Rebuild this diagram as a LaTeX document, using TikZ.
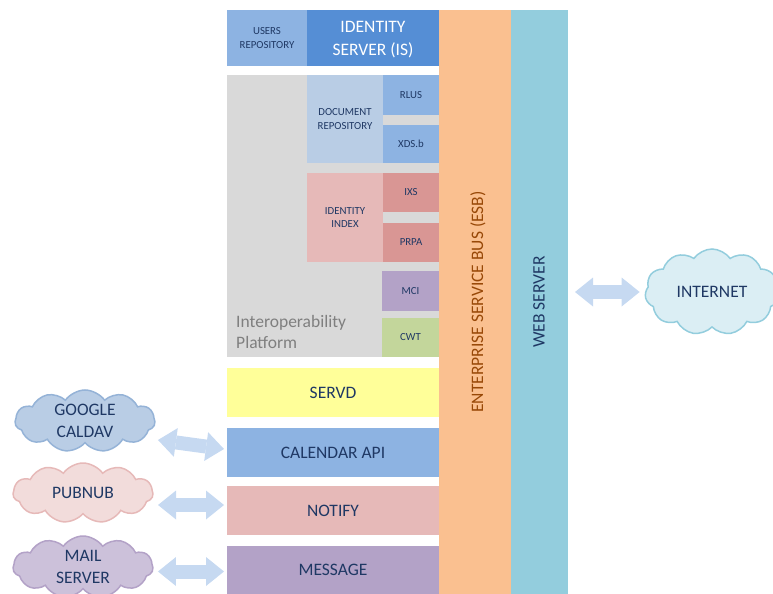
\documentclass[tikz,border=0pt]{standalone}
\usepackage{fontspec}
\setmainfont{Carlito}
\usetikzlibrary{shapes.symbols, arrows.meta, calc}

\definecolor{txt}{HTML}{1F3864}
\definecolor{esbtxt}{HTML}{984807}
\definecolor{graytxt}{HTML}{7F7F7F}
\definecolor{usersfill}{HTML}{8DB3E2}
\definecolor{isfill}{HTML}{558ED5}
\definecolor{esbfill}{HTML}{FAC090}
\definecolor{webfill}{HTML}{93CDDD}
\definecolor{platfill}{HTML}{D9D9D9}
\definecolor{docfill}{HTML}{B9CDE5}
\definecolor{bluefill}{HTML}{8DB3E2}
\definecolor{idxfill}{HTML}{E6B9B8}
\definecolor{redfill}{HTML}{D99694}
\definecolor{mcifill}{HTML}{B3A2C7}
\definecolor{cwtfill}{HTML}{C3D69B}
\definecolor{servdfill}{HTML}{FFFF99}
\definecolor{arrowblue}{HTML}{C6D9F1}
\definecolor{gcfill}{HTML}{B9CDE5}
\definecolor{gcline}{HTML}{95B3D7}
\definecolor{pnfill}{HTML}{F2DCDB}
\definecolor{pnline}{HTML}{E6B9B8}
\definecolor{mlfill}{HTML}{CCC1DA}
\definecolor{mlline}{HTML}{B3A2C7}
\definecolor{infill}{HTML}{DBEEF4}
\definecolor{inline}{HTML}{93CDDD}

\tikzset{blocktip/.tip={Triangle[length=18bp, width=29bp, line width=0pt]}}

% a filled block given by its two corners: options, name, x1, y1, x2, y2, text
\newcommand\blkbox[7]{%
  \node[blk, #1, minimum width={(#5-#3)*1bp}, minimum height={(#6-#4)*1bp}]
    (#2) at ({(#3+#5)/2},{(#4+#6)/2}) {#7};}

\begin{document}
\begin{tikzpicture}[x=1bp, y=-1bp,
  bigfont/.style={font=\fontsize{17.5bp}{22bp}\selectfont},
  smallfont/.style={font=\fontsize{10.8bp}{13.3bp}\selectfont},
  blk/.style={rectangle, draw=none, inner sep=0pt, outer sep=0pt,
    align=center, text=txt},
  cloudnode/.style={cloud, cloud puffs=11, cloud puff arc=110,
    cloud ignores aspect, line width=1.5bp, inner sep=0pt, outer sep=0pt,
    align=center, text=txt, bigfont},
  blockarrow/.style={draw=arrowblue, line width=14bp, {blocktip}-{blocktip}}
]
\useasboundingbox (0,0) rectangle (773,594);

% identity server row
\blkbox{smallfont, text depth=0pt, fill=usersfill}{users}{227}{10}{307}{66}{USERS\\REPOSITORY}
\blkbox{font=\fontsize{17.5bp}{23bp}\selectfont, text depth=0pt, text=white, fill=isfill}{is}{307}{10}{439}{66}{IDENTITY\\SERVER (IS)}

% interoperability platform
\blkbox{fill=platfill}{plat}{227}{75}{439}{357}{}
\node[anchor=base west, inner sep=0pt, align=left, text=graytxt,
  font=\fontsize{17.5bp}{21bp}\selectfont] (platlabel) at (236,348)
  {Interoperability\\Platform};

\blkbox{smallfont, fill=docfill}{doc}{307}{75}{383}{163}{DOCUMENT\\REPOSITORY}
\blkbox{smallfont, fill=bluefill}{rlus}{383}{75}{439}{115}{RLUS}
\blkbox{smallfont, fill=bluefill}{xds}{383}{125}{439}{163}{XDS.b}

\blkbox{smallfont, fill=idxfill}{idx}{307}{173}{383}{262}{IDENTITY\\INDEX}
\blkbox{smallfont, fill=redfill}{ixs}{383}{173}{439}{212}{IXS}
\blkbox{smallfont, fill=redfill}{prpa}{383}{223}{439}{262}{PRPA}

\blkbox{smallfont, fill=mcifill}{mci}{382}{271}{439}{311}{MCI}
\blkbox{smallfont, fill=cwtfill}{cwt}{382}{318}{439}{357}{CWT}

% services
\blkbox{bigfont, fill=servdfill}{servd}{227}{368}{439}{417}{SERVD}
\blkbox{bigfont, fill=bluefill}{calapi}{227}{428}{439}{477}{CALENDAR API}
\blkbox{bigfont, fill=idxfill}{notify}{227}{486}{439}{535}{NOTIFY}
\blkbox{bigfont, fill=mcifill}{message}{227}{546}{439}{594}{MESSAGE}

% buses
\blkbox{fill=esbfill}{esb}{439}{10}{511}{594}{}
\blkbox{fill=webfill}{web}{511}{10}{568}{594}{}
\node[rotate=90, bigfont, text=esbtxt, inner sep=0pt] (esblabel) at (478,302) {ENTERPRISE SERVICE BUS (ESB)};
\node[rotate=90, bigfont, text=txt, inner sep=0pt] (weblabel) at (539,302) {WEB SERVER};

% external services
\node[cloudnode, fill=gcfill, draw=gcline, minimum width=140bp, minimum height=62bp] (gcloud) at (85,421) {GOOGLE\\CALDAV};
\node[cloudnode, fill=pnfill, draw=pnline, minimum width=140bp, minimum height=60bp] (pcloud) at (83,493) {PUBNUB};
\node[cloudnode, fill=mlfill, draw=mlline, minimum width=140bp, minimum height=62bp] (mcloud) at (83,567) {MAIL\\SERVER};
\node[cloudnode, fill=infill, draw=inline, minimum width=134bp, minimum height=86bp] (inet) at (712,292) {INTERNET};

% block arrows
\draw[blockarrow] ($(gcloud.east)+(3,19)$) -- ($(calapi.west)+(-3,-3.5)$);
\draw[blockarrow] ($(pcloud.east |- notify.west)+(5,-5.5)$) -- ($(notify.west)+(-3,-5.5)$);
\draw[blockarrow] ($(mcloud.east |- message.west)+(5,1.5)$) -- ($(message.west)+(-3,1.5)$);
\draw[blockarrow] ($(web.east |- inet.west)+(7,0)$) -- ($(inet.west)+(-6,0)$);
\end{tikzpicture}
\end{document}
